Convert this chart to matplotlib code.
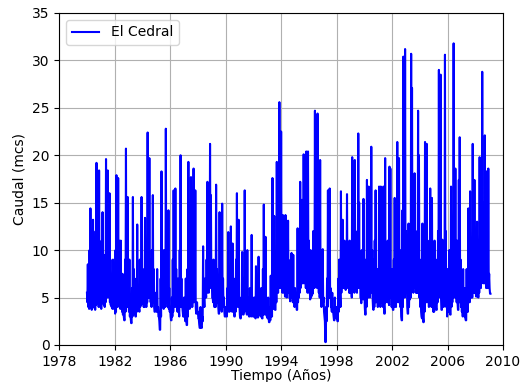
import numpy as np
import matplotlib
matplotlib.use("Agg")
import matplotlib.pyplot as plt

# Caudal (mcs): for each year, 16 upper readings
# (spikes / local values) and 16 lower-envelope readings, alternating in time.
start_year = 1980
readings_per_year = 32

h1980 = [5.5, 8.5, 6.0, 10.0, 14.4, 7.0, 9.0, 13.2, 8.0, 6.0, 12.0, 19.2, 10.0, 7.5, 18.4, 9.0]
h1981 = [6.0, 11.0, 14.0, 8.0, 7.0, 9.5, 19.6, 10.0, 18.4, 12.0, 16.0, 9.0, 6.5, 5.0, 9.0, 7.0]
h1982 = [5.0, 10.0, 17.9, 9.0, 17.6, 11.0, 7.0, 11.0, 6.0, 7.5, 5.0, 2.6, 9.0, 20.7, 10.0, 15.6]
h1983 = [5.0, 9.0, 4.0, 2.3, 6.0, 15.6, 8.0, 4.5, 3.0, 7.0, 12.7, 5.5, 4.0, 9.0, 6.0, 15.6]
h1984 = [6.0, 5.0, 8.0, 13.4, 7.0, 10.0, 22.4, 11.0, 19.7, 9.0, 7.0, 10.0, 15.8, 8.0, 3.5, 5.5]
h1985 = [5.0, 8.0, 4.0, 3.0, 1.6, 7.0, 18.3, 10.0, 7.0, 10.0, 9.0, 22.8, 10.0, 7.0, 14.2, 6.0]
h1986 = [4.0, 2.6, 5.0, 9.0, 16.3, 6.0, 16.5, 8.0, 4.0, 7.0, 3.5, 10.0, 20.0, 7.0, 4.0, 3.0]
h1987 = [5.0, 3.0, 7.0, 2.1, 8.0, 19.3, 8.0, 10.0, 17.7, 9.0, 10.0, 18.6, 9.0, 16.3, 3.3, 4.5]
h1988 = [3.5, 2.8, 1.8, 4.0, 1.8, 3.0, 10.4, 5.0, 7.0, 5.8, 9.0, 17.2, 6.0, 12.0, 21.2, 15.8]
h1989 = [7.0, 5.0, 9.0, 4.0, 6.0, 16.9, 8.0, 5.0, 3.3, 14.0, 6.0, 4.0, 14.9, 7.0, 5.0, 3.0]
h1990 = [4.0, 3.0, 6.0, 11.9, 5.0, 8.0, 12.5, 4.0, 10.7, 6.0, 3.0, 7.0, 9.0, 16.0, 5.0, 13.2]
h1991 = [4.0, 2.8, 5.0, 9.8, 4.0, 7.0, 16.3, 6.0, 3.5, 10.0, 5.0, 3.0, 6.0, 4.5, 11.6, 5.0]
h1992 = [3.5, 5.0, 3.0, 8.3, 4.0, 2.9, 9.3, 5.0, 3.5, 6.0, 2.8, 8.0, 14.8, 4.0, 11.4, 3.5]
h1993 = [3.0, 5.0, 2.4, 4.0, 7.3, 3.5, 17.6, 6.0, 13.6, 3.7, 9.0, 19.3, 8.0, 12.0, 25.6, 10.0]
h1994 = [22.5, 10.0, 13.7, 9.0, 6.0, 13.7, 9.0, 12.7, 13.1, 8.0, 5.0, 9.0, 9.7, 7.0, 9.5, 6.0]
h1995 = [6.0, 5.0, 3.7, 12.3, 9.0, 11.0, 17.2, 10.0, 15.3, 9.0, 20.1, 11.0, 10.0, 20.4, 11.0, 20.4]
h1996 = [11.0, 6.0, 10.0, 8.0, 7.0, 12.0, 11.0, 24.7, 12.0, 14.0, 24.4, 10.0, 12.0, 19.5, 5.0, 8.0]
h1997 = [10.1, 5.0, 3.0, 0.3, 4.0, 7.0, 16.3, 8.0, 16.5, 6.0, 4.0, 5.5, 3.5, 2.6, 5.0, 3.0]
h1998 = [4.0, 2.5, 7.0, 9.0, 6.0, 16.2, 10.0, 13.2, 9.0, 11.0, 7.0, 10.0, 15.9, 10.0, 8.0, 11.0]
h1999 = [8.0, 6.0, 19.8, 10.0, 9.0, 19.5, 11.0, 8.0, 12.0, 22.3, 15.0, 9.0, 5.0, 10.0, 8.0, 15.4]
h2000 = [7.0, 3.2, 9.0, 17.4, 9.0, 16.7, 8.0, 11.0, 20.9, 10.0, 4.0, 9.0, 11.0, 16.3, 8.0, 7.0]
h2001 = [8.0, 16.7, 7.0, 16.7, 9.0, 10.0, 16.7, 3.3, 19.7, 10.0, 8.0, 11.0, 5.0, 18.8, 18.6, 7.0]
h2002 = [8.0, 3.7, 9.0, 15.5, 8.0, 11.0, 21.4, 9.0, 19.7, 10.0, 5.0, 2.6, 14.2, 30.4, 11.0, 31.2]
h2003 = [12.0, 7.0, 3.3, 12.8, 6.0, 11.0, 30.7, 27.1, 11.0, 14.0, 18.1, 9.0, 7.0, 12.0, 24.7, 20.0]
h2004 = [9.0, 6.0, 3.0, 12.8, 2.4, 9.0, 21.4, 10.0, 21.2, 8.0, 6.0, 11.0, 16.5, 9.0, 15.5, 7.0]
h2005 = [6.0, 11.0, 7.0, 3.7, 9.0, 12.0, 29.0, 11.0, 28.5, 3.7, 11.1, 8.0, 10.0, 30.6, 12.0, 6.0]
h2006 = [8.0, 6.0, 10.0, 3.2, 16.7, 10.0, 12.0, 31.8, 11.0, 18.6, 8.0, 11.0, 3.7, 17.4, 21.9, 9.0]
h2007 = [7.0, 5.0, 8.0, 3.5, 6.0, 2.6, 8.0, 7.0, 14.4, 9.0, 16.2, 11.0, 9.0, 21.2, 12.0, 17.4]
h2008 = [9.0, 5.1, 13.0, 7.0, 11.0, 19.8, 10.0, 14.0, 28.8, 12.0, 15.0, 22.1, 11.0, 18.3, 9.0, 18.6]
h2009 = [7.5, 5.4]

l1980 = [4.5, 4.0, 3.8, 4.2, 4.0, 3.7, 4.0, 4.5, 3.9, 3.7, 4.2, 5.0, 4.5, 4.0, 4.5, 4.0]
l1981 = [3.8, 4.5, 5.0, 4.2, 4.0, 4.5, 5.5, 5.0, 5.5, 5.0, 4.5, 4.2, 4.0, 3.8, 4.0, 3.8]
l1982 = [3.3, 3.5, 4.5, 4.0, 5.0, 4.5, 3.8, 4.0, 3.5, 3.2, 3.0, 2.6, 3.5, 4.5, 4.0, 4.0]
l1983 = [3.5, 3.0, 2.8, 2.3, 3.0, 4.0, 3.5, 3.2, 3.0, 3.5, 4.0, 3.8, 3.5, 4.0, 4.2, 4.5]
l1984 = [4.5, 4.0, 4.0, 4.5, 4.0, 4.5, 5.0, 5.0, 5.5, 4.5, 4.0, 4.5, 4.5, 4.0, 3.5, 3.8]
l1985 = [3.5, 3.5, 3.0, 2.5, 1.6, 3.0, 4.5, 4.0, 3.8, 4.5, 4.0, 5.0, 4.5, 4.0, 3.8, 3.5]
l1986 = [3.0, 2.6, 3.0, 3.5, 4.5, 4.0, 4.5, 4.0, 3.5, 3.8, 3.0, 4.0, 4.5, 4.0, 3.5, 3.0]
l1987 = [3.0, 2.5, 2.8, 2.1, 3.0, 4.0, 3.8, 4.0, 4.5, 4.0, 4.5, 5.0, 4.5, 4.0, 3.3, 3.5]
l1988 = [2.8, 2.2, 1.8, 2.0, 1.8, 2.5, 4.0, 4.0, 5.0, 5.0, 5.5, 6.0, 5.5, 6.0, 6.5, 6.0]
l1989 = [5.0, 4.5, 4.5, 4.0, 4.0, 5.0, 4.5, 4.0, 3.3, 4.0, 4.0, 3.5, 4.0, 4.0, 3.5, 3.0]
l1990 = [3.2, 3.0, 3.5, 4.0, 3.5, 4.0, 4.0, 3.5, 4.0, 3.5, 3.0, 3.5, 4.0, 4.5, 4.0, 4.0]
l1991 = [3.0, 2.8, 3.2, 3.5, 3.2, 3.5, 4.0, 3.8, 3.2, 3.5, 3.2, 3.0, 3.2, 3.0, 3.5, 3.0]
l1992 = [3.0, 3.2, 2.8, 3.2, 3.0, 2.9, 3.5, 3.2, 3.0, 3.2, 2.8, 3.2, 3.8, 3.2, 3.5, 3.0]
l1993 = [2.8, 3.0, 2.4, 2.6, 3.0, 3.0, 4.0, 3.8, 4.0, 3.7, 4.5, 5.5, 5.5, 6.0, 6.5, 6.0]
l1994 = [6.5, 5.5, 6.0, 5.5, 5.1, 5.5, 5.0, 5.5, 5.5, 5.0, 4.6, 5.0, 5.0, 4.5, 4.5, 4.0]
l1995 = [4.2, 4.5, 3.7, 4.5, 5.0, 5.5, 6.0, 6.5, 6.5, 6.5, 7.0, 6.5, 6.0, 6.0, 5.5, 6.0]
l1996 = [5.5, 4.8, 5.0, 5.2, 5.4, 6.0, 6.0, 7.0, 6.5, 6.0, 6.5, 5.5, 5.0, 5.0, 4.0, 4.5]
l1997 = [4.5, 3.5, 2.5, 0.3, 2.5, 4.0, 5.0, 5.0, 5.0, 4.0, 3.5, 3.5, 3.0, 2.6, 3.0, 2.8]
l1998 = [3.0, 2.5, 3.5, 4.0, 4.0, 5.5, 6.0, 6.0, 6.0, 6.0, 5.8, 6.0, 6.5, 6.0, 5.5, 5.5]
l1999 = [5.5, 5.0, 6.0, 6.0, 5.5, 6.0, 6.0, 5.5, 6.0, 6.5, 6.0, 5.0, 4.4, 5.0, 4.8, 5.0]
l2000 = [4.0, 3.2, 4.0, 5.0, 5.0, 5.5, 5.0, 5.5, 6.0, 5.0, 3.7, 4.0, 4.5, 5.0, 4.5, 4.0]
l2001 = [4.5, 5.0, 4.0, 5.0, 4.5, 4.0, 4.5, 3.3, 4.5, 5.0, 4.5, 4.5, 4.2, 5.0, 5.0, 4.0]
l2002 = [4.0, 3.7, 4.0, 4.5, 4.0, 4.5, 5.0, 4.5, 5.0, 4.0, 3.0, 2.6, 4.0, 6.0, 5.0, 6.0]
l2003 = [5.5, 4.0, 3.3, 4.0, 4.8, 5.0, 6.0, 6.0, 5.5, 6.0, 6.0, 5.5, 5.5, 5.5, 6.0, 5.0]
l2004 = [4.0, 3.5, 2.8, 3.0, 2.4, 3.5, 4.5, 4.5, 5.0, 4.5, 4.0, 4.5, 4.5, 4.0, 4.0, 3.5]
l2005 = [3.5, 4.0, 4.0, 3.7, 4.5, 5.0, 6.0, 5.0, 5.0, 3.7, 4.5, 4.0, 4.5, 5.0, 4.0, 3.0]
l2006 = [3.5, 3.5, 3.5, 3.2, 4.0, 4.5, 5.0, 6.0, 5.0, 5.0, 4.5, 4.5, 3.7, 4.5, 5.0, 4.0]
l2007 = [3.5, 3.0, 3.5, 3.0, 2.8, 2.6, 3.5, 3.5, 4.5, 4.5, 5.0, 5.0, 5.0, 6.0, 5.5, 5.5]
l2008 = [5.5, 5.1, 5.5, 5.0, 5.5, 6.0, 6.0, 6.5, 7.0, 6.5, 6.5, 7.0, 6.0, 6.0, 6.0, 6.5]
l2009 = [6.0, 5.4]

upper = [h1980, h1981, h1982, h1983, h1984, h1985, h1986, h1987, h1988, h1989,
         h1990, h1991, h1992, h1993, h1994, h1995, h1996, h1997, h1998, h1999,
         h2000, h2001, h2002, h2003, h2004, h2005, h2006, h2007, h2008, h2009]
lower = [l1980, l1981, l1982, l1983, l1984, l1985, l1986, l1987, l1988, l1989,
         l1990, l1991, l1992, l1993, l1994, l1995, l1996, l1997, l1998, l1999,
         l2000, l2001, l2002, l2003, l2004, l2005, l2006, l2007, l2008, l2009]

x_ticks = [1978, 1982, 1986, 1990, 1994, 1998, 2002, 2006, 2010]
series_label = "El Cedral"

caudal = []
for hi_year, lo_year in zip(upper, lower):
    for hv, lv in zip(hi_year, lo_year):
        caudal.extend([hv, lv])
caudal = np.asarray(caudal, dtype=float)
tiempo = start_year + np.arange(len(caudal)) / readings_per_year

fig = plt.figure(figsize=(5.24, 3.82), dpi=100)
ax = fig.add_axes([0.113, 0.097, 0.847, 0.869])
ax.plot(tiempo, caudal, color="blue", linewidth=1.5, label=series_label)
ax.set_xlim(1978, 2010)
ax.set_ylim(0, 35)
ax.set_xticks(x_ticks)
ax.grid(True)
ax.set_xlabel("Tiempo (Años)", labelpad=0)
ax.set_ylabel("Caudal (mcs)")
ax.legend(loc="upper left")
fig.savefig("out.png", dpi=100)
